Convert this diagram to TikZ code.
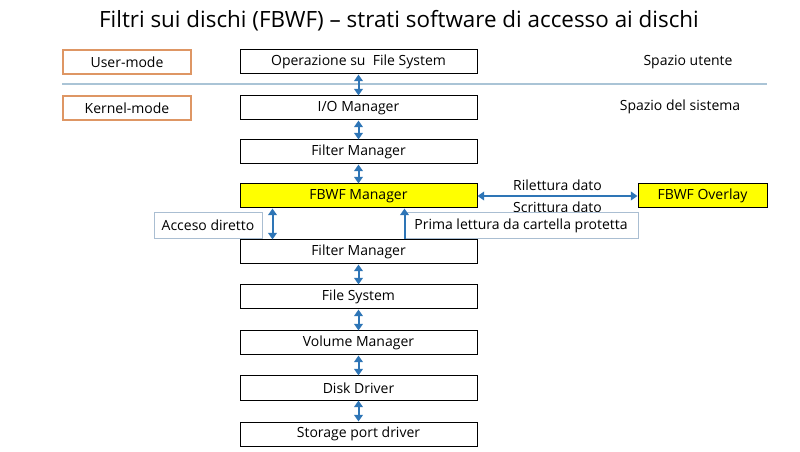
\documentclass[tikz,border=0pt]{standalone}
\usepackage{fontspec}
\setmainfont{Open Sans}
\usetikzlibrary{arrows.meta,calc}

\definecolor{arrowblue}{RGB}{46,117,182}
\definecolor{modeorange}{RGB}{222,150,100}
\definecolor{sepblue}{RGB}{170,196,214}
\definecolor{notegrey}{RGB}{170,190,210}
\definecolor{fbwfyellow}{RGB}{255,255,0}

\tikzset{
    layer/.style={draw=black, line width=0.75pt, minimum width=177.75pt, minimum height=18pt,
        inner sep=0pt, font=\fontsize{10.5}{12}\selectfont},
    modebox/.style={draw=modeorange, line width=0.9pt, minimum width=96pt, minimum height=18pt,
        inner sep=0pt, font=\fontsize{10.5}{12}\selectfont},
    notebox/.style={draw=notegrey, line width=0.75pt, minimum height=19.5pt,
        inner sep=0pt, font=\fontsize{10.5}{12}\selectfont},
    plain/.style={text=black, font=\fontsize{10.5}{12}\selectfont},
    link/.style={arrowblue, line width=1.5pt, {Triangle[width=6.5pt,length=5pt]}-{Triangle[width=6.5pt,length=5pt]}},
    uplink/.style={arrowblue, line width=1.5pt, -{Triangle[width=6.5pt,length=5pt]}},
}

\begin{document}
\begin{tikzpicture}[x=0.75pt, y=-0.75pt]

\useasboundingbox (0,0) rectangle (800,452);

% title
\node[font=\fontsize{16.8}{20}\selectfont] (title) at (399,21) {Filtri sui dischi (FBWF) -- strati software di accesso ai dischi};

% the software layers, from top to bottom
\foreach \nm/\y/\val in {
    ops/62/{Operazione su~ File System},
    io/108/{I/O Manager},
    fmA/152/{Filter Manager},
    fmB/252/{Filter Manager},
    fs/297/{File System},
    vm/343/{Volume Manager},
    dd/388/{Disk Driver},
    spd/434/{Storage port driver}%
} {
    \node[layer] (\nm) at (358.5,\y) {\val};
}
\node[layer, fill=fbwfyellow] (fbwf) at (358.5,196) {FBWF Manager};
\node[layer, fill=fbwfyellow, minimum width=96.75pt] (ovl) at (702.5,196) {FBWF Overlay};

% user / kernel split
\node[modebox] (user) at (127,62) {User-mode};
\node[modebox] (kernel) at (127,108) {Kernel-mode};
\node[plain] (uspace) at (688,62) {Spazio utente};
\node[plain] (kspace) at (680,107) {Spazio del sistema};
\draw[sepblue, line width=0.9pt] (62,84) -- (767,84);

% arrows between the layers
\foreach \a/\b in {ops/io, io/fmA, fmA/fbwf, fmB/fs, fs/vm, vm/dd, dd/spd} {
    \draw[link] (\a.south) -- (\b.north);
}

% FBWF manager <-> overlay
\draw[link] (fbwf.east) -- (ovl.west)
    node[plain, midway, above] (rilet) {Rilettura dato}
    node[plain, midway, below] (scrit) {Scrittura dato};

% direct access and first read
\node[notebox, minimum width=81pt] (acc) at (208,225.5) {Acceso diretto};
\node[notebox, minimum width=175.5pt] (prima) at (521,226) {Prima lettura da cartella protetta};
\coordinate (accTop) at ($(fbwf.south west)+(33,0)$);
\coordinate (primaTop) at ($(fbwf.south west)+(165,0)$);
\draw[link] (accTop) -- (accTop |- fmB.north);
\draw[uplink] (primaTop |- fmB.north) -- (primaTop);

\end{tikzpicture}
\end{document}
